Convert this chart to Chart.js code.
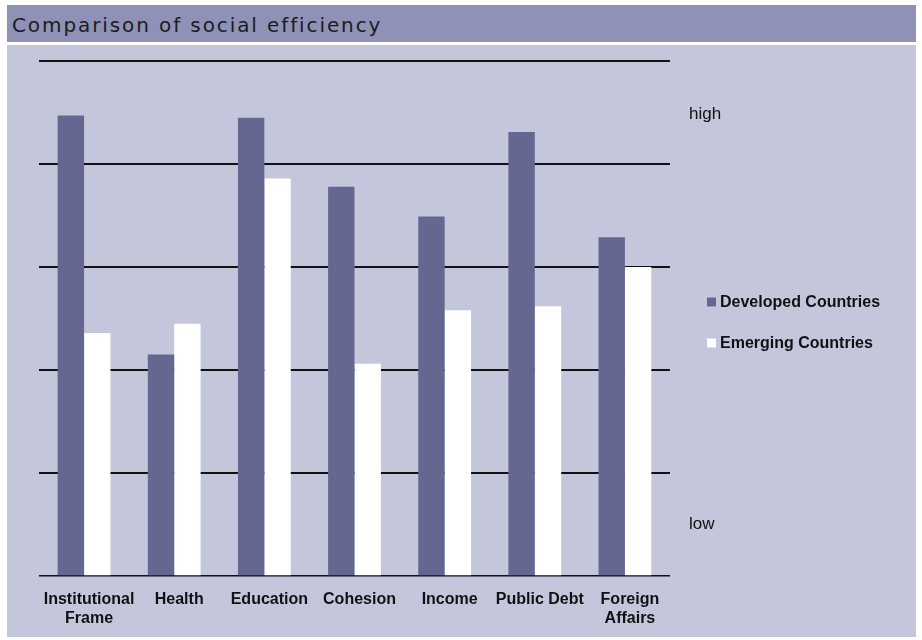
<!DOCTYPE html>
<html>
<head>
<meta charset="utf-8">
<script src="https://cdn.jsdelivr.net/npm/chart.js@4"></script>
<style>
  body { margin: 0; background: #fff; width: 922px; height: 640px; position: relative; overflow: hidden; }
  #title {
    position: absolute; left: 7px; top: 5px; width: 909px; height: 37px;
    background: #8f92b6; color: #1c1c1c;
    font-family: "DejaVu Sans", Verdana, sans-serif; font-size: 20px; letter-spacing: 1.9px;
    line-height: 40px; padding-left: 5px; box-sizing: border-box;
  }
  #panel { position: absolute; left: 7px; top: 45px; width: 909px; height: 592px; background: #c4c6dc; }
</style>
</head>
<body>
<div id="title">Comparison of social efficiency</div>
<div id="panel"><canvas id="efficiencyChart" width="909" height="592"></canvas></div>
<script>
const categories = [
  ['Institutional', 'Frame'], 'Health', 'Education', 'Cohesion', 'Income', 'Public Debt', ['Foreign', 'Affairs']
];
const developed = [4.47, 2.15, 4.45, 3.78, 3.49, 4.31, 3.29];
const emerging = [2.36, 2.45, 3.86, 2.06, 2.58, 2.62, 3.0];
const seriesNames = ['Developed Countries', 'Emerging Countries'];
const levelLabels = [{ text: 'high', value: 4.48 }, { text: 'low', value: 0.5 }];

const font = 'Liberation Sans, Arial, sans-serif';

// legend and the high/low marks sit in the right margin
const sideLabels = {
  id: 'sideLabels',
  afterDraw(chart) {
    const ctx = chart.ctx;
    const y = chart.scales.y;
    ctx.save();
    ctx.textBaseline = 'middle';
    ctx.fillStyle = '#111';
    ctx.font = '17px ' + font;
    levelLabels.forEach(l => ctx.fillText(l.text, 682, y.getPixelForValue(l.value)));

    ctx.font = 'bold 16px ' + font;
    const rows = [257, 298];
    chart.data.datasets.forEach((ds, i) => {
      ctx.fillStyle = ds.backgroundColor;
      ctx.fillRect(700, rows[i] - 4.5, 9, 9);
      ctx.fillStyle = '#111';
      ctx.fillText(ds.label, 713, rows[i] + 1);
    });
    ctx.restore();
  }
};

new Chart(document.getElementById('efficiencyChart'), {
  type: 'bar',
  data: {
    labels: categories,
    datasets: [
      { label: seriesNames[0], data: developed, backgroundColor: '#646891' },
      { label: seriesNames[1], data: emerging, backgroundColor: '#ffffff' }
    ]
  },
  options: {
    responsive: false,
    animation: false,
    layout: { padding: { left: 32, right: 246, top: 16, bottom: 0 } },
    datasets: { bar: { categoryPercentage: 0.586, barPercentage: 1 } },
    plugins: { legend: { display: false }, tooltip: { enabled: false } },
    scales: {
      x: {
        grid: { display: false, drawTicks: false },
        border: { display: false },
        ticks: {
          color: '#111', padding: 14, labelOffset: 5, maxRotation: 0, autoSkip: false,
          font: { family: font, size: 16, weight: 'bold', lineHeight: 1.2 }
        },
        afterFit(scale) { scale.height = 61; }
      },
      y: {
        min: 0, max: 5,
        border: { display: false },
        grid: {
          drawTicks: false,
          color: '#111',
          lineWidth: c => (c.tick && c.tick.value === 0 ? 1.5 : 2)
        },
        ticks: { display: false, stepSize: 1 },
        afterFit(scale) { scale.width = 0; }
      }
    }
  },
  plugins: [sideLabels]
});
</script>
</body>
</html>
